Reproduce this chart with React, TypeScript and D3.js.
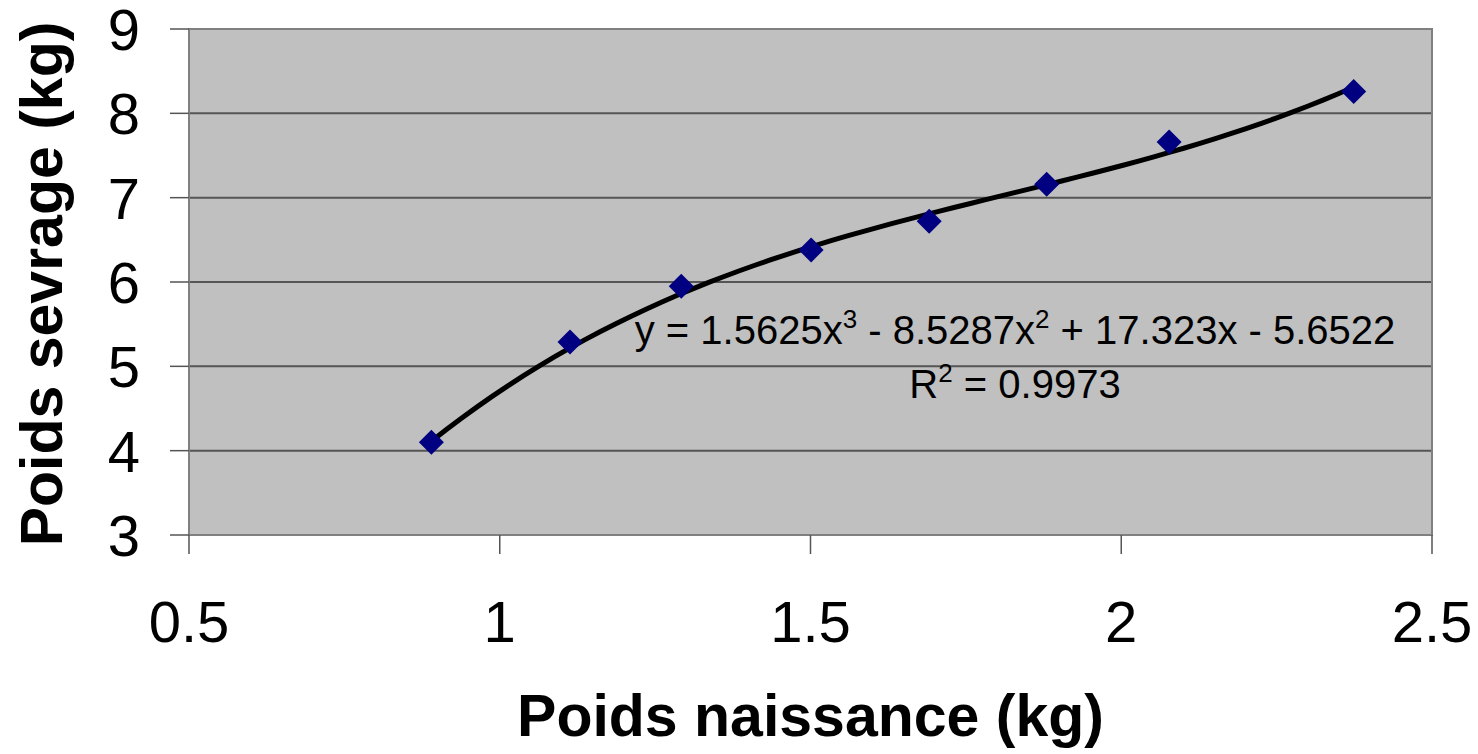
import React from "react";
import * as d3 from "d3";

const birthWeights = [0.89, 1.113, 1.292, 1.501, 1.691, 1.88, 2.077, 2.374];
const weanWeights = [4.1, 5.29, 5.95, 6.38, 6.72, 7.16, 7.66, 8.26];
const trendCoefs = [1.5625, -8.5287, 17.323, -5.6522]; // x^3, x^2, x, const
const xTicks = [0.5, 1, 1.5, 2, 2.5];
const yTicks = [3, 4, 5, 6, 7, 8, 9];
const xTitle = "Poids naissance (kg)";
const yTitle = "Poids sevrage (kg)";

export default function App() {
  const W = 1478, H = 754;
  const L = 189, R = 1432, T = 29, B = 535;
  const x = d3.scaleLinear().domain([0.5, 2.5]).range([L, R]);
  const y = d3.scaleLinear().domain([3, 9]).range([B, T]);
  const poly = (v: number) =>
    trendCoefs[0] * v ** 3 + trendCoefs[1] * v ** 2 + trendCoefs[2] * v + trendCoefs[3];
  const xMin = d3.min(birthWeights)!, xMax = d3.max(birthWeights)!;
  const samples = d3.range(0, 61).map((i) => xMin + ((xMax - xMin) * i) / 60);
  const line = d3.line<number>().x((d) => x(d)).y((d) => y(poly(d)));
  const diamond = (cx: number, cy: number, r: number) =>
    `M${cx},${cy - r}L${cx + r},${cy}L${cx},${cy + r}L${cx - r},${cy}Z`;
  const font = "'Liberation Sans', Arial, sans-serif";
  return (
    <svg width={W} height={H} style={{ position: "absolute", left: 0, top: 0 }} fontFamily={font}>
      <rect x={0} y={0} width={W} height={H} fill="#fff" />
      <rect x={L} y={T} width={R - L} height={B - T} fill="#c0c0c0" />
      {yTicks.slice(1, -1).map((t) => (
        <line key={t} x1={L} x2={R} y1={y(t)} y2={y(t)} stroke="#555" strokeWidth={2} />
      ))}
      <rect x={L} y={T} width={R - L} height={B - T} fill="none" stroke="#808080" strokeWidth={2} />
      {yTicks.map((t) => (
        <g key={t}>
          <line x1={L - 19} x2={L} y1={y(t)} y2={y(t)} stroke="#555" strokeWidth={1.5} />
          <text x={140} y={y(t)} dy="0.36em" textAnchor="end" fontSize={58} fill="#000">
            {t}
          </text>
        </g>
      ))}
      {xTicks.map((t) => (
        <g key={t}>
          <line x1={x(t)} x2={x(t)} y1={B} y2={B + 19} stroke="#555" strokeWidth={1.5} />
          <text x={x(t)} y={642} textAnchor="middle" fontSize={58} fill="#000">
            {t}
          </text>
        </g>
      ))}
      <path d={line(samples) || ""} fill="none" stroke="#000" strokeWidth={5} strokeLinejoin="round" strokeLinecap="round" />
      {birthWeights.map((bw, i) => (
        <path key={i} d={diamond(x(bw), y(weanWeights[i]), 12.5)} fill="#000080" />
      ))}
      <text x={1015} y={344} textAnchor="middle" fontSize={40} fill="#000">
        y = 1.5625x<tspan fontSize={26} dy={-16}>3</tspan>
        <tspan dy={16}> - 8.5287x</tspan>
        <tspan fontSize={26} dy={-16}>2</tspan>
        <tspan dy={16}> + 17.323x - 5.6522</tspan>
      </text>
      <text x={1015} y={398} textAnchor="middle" fontSize={40} fill="#000">
        R<tspan fontSize={26} dy={-16}>2</tspan>
        <tspan dy={16}> = 0.9973</tspan>
      </text>
      <text x={(L + R) / 2} y={736} textAnchor="middle" fontSize={59} fontWeight="bold" fill="#000">
        {xTitle}
      </text>
      <text
        transform={`translate(62,${(T + B) / 2 + 2}) rotate(-90)`}
        textAnchor="middle"
        fontSize={59}
        fontWeight="bold"
        fill="#000"
      >
        {yTitle}
      </text>
    </svg>
  );
}
